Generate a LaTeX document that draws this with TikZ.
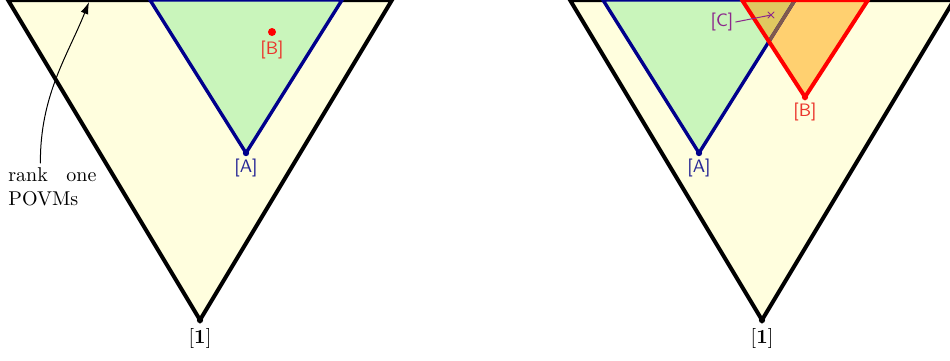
\documentclass[tikz,border=0pt]{standalone}
\usetikzlibrary{arrows.meta,positioning}
\definecolor{simplexfill}{RGB}{255,254,222}
\definecolor{greenfill}{RGB}{201,245,187}
\definecolor{orangefill}{RGB}{255,208,112}
\definecolor{overlapfill}{RGB}{224,200,96}
\definecolor{navyline}{RGB}{0,0,140}
\definecolor{navytext}{RGB}{40,40,150}
\definecolor{redtext}{RGB}{235,55,45}
\definecolor{brownline}{RGB}{128,90,78}
\definecolor{purpletext}{RGB}{140,40,140}
\tikzset{
  outer/.style={line width=2pt,draw=black,fill=simplexfill},
  bluetri/.style={line width=1.7pt,draw=navyline},
  redtri/.style={line width=2pt,draw=red},
  lbl/.style={font=\sffamily\small,inner sep=1pt},
  vtx/.style={circle,fill,inner sep=0pt,minimum size=3.2pt}
}
\begin{document}
\begin{tikzpicture}[x=0.5pt,y=-0.5pt,line cap=round]
  \useasboundingbox (0,0) rectangle (950,360);
  % left picture
  \coordinate (L1) at (8,0);
  \coordinate (L2) at (392,0);
  \coordinate (L0) at (200,320);
  \coordinate (LA1) at (150,0);
  \coordinate (LA2) at (342,0);
  \coordinate (LA0) at (246,153);
  \draw[outer] (L1) -- (L2) -- (L0) -- cycle;
  \fill[greenfill] (LA1) -- (LA2) -- (LA0) -- cycle;
  \draw[bluetri] (LA1) -- (LA2) -- (LA0) -- cycle;
  \node[vtx] (dotL0) at (L0) {};
  \node[vtx,navyline] (dotLA) at (LA0) {};
  \node[vtx,red,minimum size=4pt] (dotLB) at (272,32) {};
  \node[inner sep=1pt,below=1pt of dotL0] {$[\mathbf{1}]$};
  \node[lbl,navytext,below=0pt of dotLA] {[A]};
  \node[lbl,redtext,below=1pt of dotLB] {[B]};
  \coordinate (rk1) at (89,2);
  \node[anchor=north west,inner sep=0pt,text width=44pt,align=justify] (povm) at (8,167) {rank one POVMs};
  \draw[-{Latex[length=6pt,width=4pt]},line width=0.5pt] ([xshift=-6pt,yshift=2pt]povm.north) .. controls (40,95) and (68,55) .. (rk1);
  % right picture
  \coordinate (R1) at (570,0);
  \coordinate (R2) at (954,0);
  \coordinate (R0) at (762,320);
  \coordinate (RA1) at (603,0);
  \coordinate (RA2) at (795,0);
  \coordinate (RA0) at (699,153);
  \coordinate (RB1) at (742,0);
  \coordinate (RB2) at (868,0);
  \coordinate (RB0) at (805,97);
  \draw[outer] (R1) -- (R2) -- (R0) -- cycle;
  \fill[greenfill] (RA1) -- (RA2) -- (RA0) -- cycle;
  \fill[orangefill] (RB1) -- (RB2) -- (RB0) -- cycle;
  \begin{scope}
    \clip (RA1) -- (RA2) -- (RA0) -- cycle;
    \fill[overlapfill] (RB1) -- (RB2) -- (RB0) -- cycle;
  \end{scope}
  \draw[bluetri] (RA1) -- (RA2) -- (RA0) -- cycle;
  \begin{scope}
    \clip (RB1) -- (RB2) -- (RB0) -- cycle;
    \draw[bluetri,brownline] (RA2) -- (RA0);
  \end{scope}
  \draw[redtri] (RB1) -- (RB2) -- (RB0) -- cycle;
  \node[vtx] (dotR0) at (R0) {};
  \node[vtx,navyline] (dotRA) at (RA0) {};
  \node[vtx,red] (dotRB) at (RB0) {};
  \node[inner sep=1pt,below=1pt of dotR0] {$[\mathbf{1}]$};
  \node[lbl,navytext,below=0pt of dotRA] {[A]};
  \node[lbl,redtext,below=0pt of dotRB] {[B]};
  \node[lbl,purpletext] (labC) at (722,22) {[C]};
  \coordinate (cpt) at (771,15);
  \draw[purpletext,line width=0.5pt] (labC.east) -- (cpt);
  \draw[purpletext,line width=0.5pt] ([shift={(-3,-3)}]cpt) -- ([shift={(3,3)}]cpt)
    ([shift={(-3,3)}]cpt) -- ([shift={(3,-3)}]cpt);
\end{tikzpicture}
\end{document}
